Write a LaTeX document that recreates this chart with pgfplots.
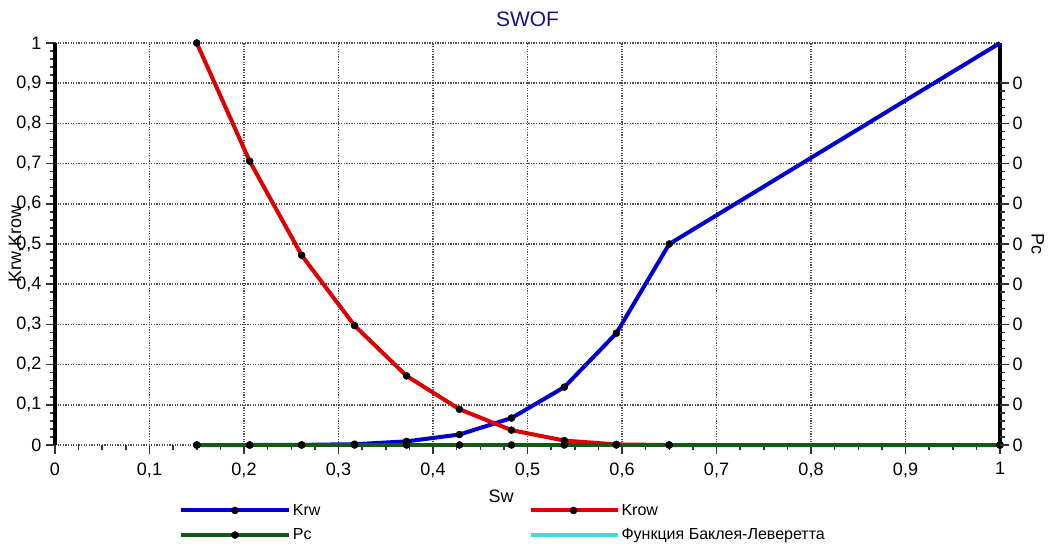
\documentclass[border=0pt]{standalone}
\usepackage{pgfplots}
\pgfplotsset{compat=1.18}
\usepackage{fontspec}
\setmainfont{Liberation Sans}

\definecolor{krw}{RGB}{0,0,205}
\definecolor{krow}{RGB}{220,0,0}
\definecolor{pcc}{RGB}{20,90,20}
\definecolor{blc}{RGB}{64,220,220}
\definecolor{ttl}{RGB}{20,20,130}
\definecolor{gridc}{RGB}{80,80,80}

\pgfplotsset{
  leglong/.style={legend image code/.code={\draw[##1, mark indices={2}] plot coordinates {(0pt,0pt) (54pt,0pt) (108pt,0pt)};}},
  legshort/.style={legend image code/.code={\draw[##1, mark indices={2}] plot coordinates {(0pt,0pt) (43pt,0pt) (87pt,0pt)};}},
  legplain/.style={legend image code/.code={\draw[##1] (0pt,0pt) -- (87pt,0pt);}},
}

\pgfplotstableread{
x      krw     krow
0.15   0.0     1.0
0.206  0.0     0.706
0.261  0.0003  0.472
0.317  0.002   0.297
0.372  0.009   0.172
0.428  0.026   0.089
0.483  0.067   0.037
0.539  0.144   0.011
0.594  0.278   0.0014
0.65   0.5     0.0
1.0    1.0     0.0
}\swof

\pgfplotstableread{
x      pc
0.15   0
0.206  0
0.261  0
0.317  0
0.372  0
0.428  0
0.483  0
0.539  0
0.594  0
0.65   0
1.0    0
}\pctab

\begin{document}
\begin{tikzpicture}
\useasboundingbox (-55pt,-99pt) rectangle (995pt,445pt);
\begin{axis}[
  scale only axis, width=945pt, height=402pt,
  xmin=0, xmax=1, ymin=0, ymax=1,
  xtick={0,0.1,...,1.01}, ytick={0,0.1,...,1.01},
  minor x tick num=3, minor y tick num=4,
  tick pos=left, tick align=outside,
  major tick length=9pt, minor tick length=5pt,
  every tick/.style={black!80, line width=1.5pt},
  separate axis lines,
  y axis line style={black, line width=3.8pt},
  x axis line style={draw=none},
  grid=major,
  major grid style={gridc, line width=1.5pt, dash pattern=on 1.3pt off 1.3pt},
  /pgf/number format/use comma,
  /pgf/number format/assume math mode=true,
  ticklabel style={font=\fontsize{18}{21}\selectfont},
  xticklabel style={yshift=-5pt},
  yticklabel style={xshift=-1pt},
  title={SWOF},
  title style={font=\fontsize{21}{24}\selectfont, text=ttl, at={(axis description cs:0.5,1)}, anchor=center, yshift=18pt},
  xlabel={Sw},
  xlabel style={font=\fontsize{18}{21}\selectfont, at={(axis description cs:0.472,0)}, anchor=center, yshift=-51pt},
  ylabel={Krw,Krow},
  ylabel style={font=\fontsize{18}{21}\selectfont, at={(axis description cs:-0.0413,0.5)}, anchor=center},
  legend columns=2,
  legend cell align=left,
  legend style={draw=none, fill=none, font=\fontsize{16}{19}\selectfont,
    at={(axis description cs:0.131,0)}, anchor=north west, yshift=-57pt,
    inner sep=0pt, row sep=8pt,
    /tikz/every even column/.append style={column sep=206pt}},
  clip=false,
]
\addplot[krw, line width=4pt, mark=*, mark size=3.5pt, mark indices={1,2,3,4,5,6,7,8,9,10},
  mark options={black, fill=black, line width=0.5pt}, leglong]
  table[x=x, y=krw] {\swof};
\addlegendentry{Krw}
\addplot[krow, line width=4pt, mark=*, mark size=3.5pt,
  mark options={black, fill=black, line width=0.5pt}, legshort]
  table[x=x, y=krow] {\swof};
\addlegendentry{Krow}
\addplot[pcc, line width=4pt, mark=*, mark size=3.5pt,
  mark options={black, fill=black, line width=0.5pt}, leglong]
  table[x=x, y=pc] {\pctab};
\addlegendentry{Pc}
\addlegendimage{blc, line width=4pt, legplain}
\addlegendentry{Функция Баклея-Леверетта}
\end{axis}
\begin{axis}[
  scale only axis, width=945pt, height=402pt,
  xmin=0, xmax=1, ymin=0, ymax=1,
  hide x axis,
  axis line style={draw=none},
  ytick={0,0.1,...,0.91},
  yticklabels={0,0,0,0,0,0,0,0,0,0},
  minor y tick num=4,
  ytick pos=right, yticklabel pos=right, tick align=outside,
  major tick length=9pt, minor tick length=5pt,
  every tick/.style={black!80, line width=1.5pt},
  ticklabel style={font=\fontsize{18}{21}\selectfont},
  ylabel={Pc},
  ylabel style={font=\fontsize{18}{21}\selectfont, at={(axis description cs:1.040,0.5)}, anchor=center, rotate=180},
]
\end{axis}
\end{tikzpicture}
\end{document}
